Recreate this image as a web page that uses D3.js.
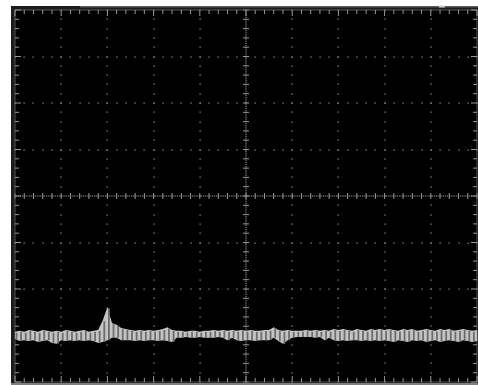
<!DOCTYPE html>
<html>
<head>
<meta charset="utf-8">
<script src="https://cdn.jsdelivr.net/npm/d3@7"></script>
<style>
  html, body { margin: 0; padding: 0; background: #fff; }
  svg { display: block; }
</style>
</head>
<body>
<div id="scope"></div>
<script>
// screen is 10 divisions wide, 8 divisions tall, values in divisions
const divsX = [0, 1, 2, 3, 4, 5, 6, 7, 8, 9, 10];
const divsY = [-4, -3, -2, -1, 0, 1, 2, 3, 4];

// trace envelope, one sample every 0.1 div
const traceTop = [
  -2.92, -2.90, -2.92, -2.88, -2.90, -2.92, -2.88, -2.90, -2.92, -2.90,
  -2.92, -2.88, -2.90, -2.92, -2.90, -2.88, -2.92, -2.90, -2.88, -2.67,
  -2.39, -2.73, -2.77, -2.84, -2.86, -2.88, -2.90, -2.88, -2.90, -2.88,
  -2.90, -2.88, -2.86, -2.82, -2.88, -2.90, -2.90, -2.92, -2.90, -2.90,
  -2.92, -2.90, -2.90, -2.88, -2.90, -2.88, -2.90, -2.88, -2.90, -2.88,
  -2.90, -2.88, -2.90, -2.90, -2.88, -2.88, -2.82, -2.88, -2.90, -2.88,
  -2.90, -2.90, -2.90, -2.88, -2.90, -2.88, -2.90, -2.88, -2.90, -2.86,
  -2.88, -2.86, -2.88, -2.90, -2.86, -2.88, -2.90, -2.86, -2.88, -2.86,
  -2.88, -2.86, -2.88, -2.90, -2.86, -2.88, -2.86, -2.90, -2.88, -2.86,
  -2.88, -2.90, -2.86, -2.88, -2.86, -2.90, -2.88, -2.86, -2.88, -2.90,
  -2.88
];
const traceBottom = [
  -3.07, -3.12, -3.10, -3.12, -3.10, -3.14, -3.12, -3.10, -3.16, -3.18,
  -3.10, -3.12, -3.10, -3.12, -3.10, -3.12, -3.10, -3.12, -3.16, -3.14,
  -3.10, -3.05, -3.05, -3.10, -3.10, -3.10, -3.12, -3.10, -3.12, -3.10,
  -3.10, -3.12, -3.10, -3.12, -3.14, -3.05, -3.05, -3.03, -3.05, -3.05,
  -3.03, -3.05, -3.05, -3.05, -3.03, -3.05, -3.10, -3.05, -3.10, -3.12,
  -3.10, -3.10, -3.12, -3.10, -3.10, -3.10, -3.05, -3.12, -3.18, -3.10,
  -3.05, -3.03, -3.03, -3.03, -3.03, -3.05, -3.03, -3.10, -3.05, -3.10,
  -3.12, -3.10, -3.12, -3.10, -3.10, -3.12, -3.10, -3.12, -3.10, -3.12,
  -3.10, -3.12, -3.14, -3.10, -3.12, -3.14, -3.10, -3.12, -3.10, -3.14,
  -3.12, -3.10, -3.14, -3.12, -3.10, -3.12, -3.14, -3.10, -3.12, -3.14,
  -3.12
];
const sampleStep = 0.1;

const W = 478, H = 385;
const svg = d3.select("#scope")
  .append("svg")
    .attr("width", W)
    .attr("height", H);

// screen background
svg.append("rect")
  .attr("x", 11).attr("y", 6)
  .attr("width", W - 11).attr("height", H - 6)
  .attr("fill", "#000");
svg.append("rect")
  .attr("x", 11).attr("y", 6)
  .attr("width", 4).attr("height", H - 6)
  .attr("fill", "#1c1c1c");
svg.append("rect")
  .attr("x", 11).attr("y", 6)
  .attr("width", W - 11).attr("height", 4)
  .attr("fill", "#1c1c1c");
svg.append("rect")
  .attr("x", 80).attr("y", 6)
  .attr("width", W - 80).attr("height", 1.5)
  .attr("fill", "#5a5a5a");
svg.append("rect")
  .attr("x", 439).attr("y", 5.5)
  .attr("width", 6).attr("height", 2)
  .attr("fill", "#d0d0d0");
svg.append("rect")
  .attr("x", 11).attr("y", 383)
  .attr("width", W - 11).attr("height", 2)
  .attr("fill", "#808080");

var x = d3.scaleLinear()
  .domain([0, 10])
  .range([15, 477]);
var y = d3.scaleLinear()
  .domain([-4, 4])
  .range([382, 10]);

const minorX = d3.range(0, 10.001, 0.2);
const minorY = d3.range(-4, 4.001, 0.2);
const fineX = d3.range(0, 10.001, 0.04);
const fineY = d3.range(-4, 4.001, 0.04);

const grid = svg.append("g");

// dotted graticule
divsX.slice(1, -1).filter(d => d !== 5).forEach(dx => {
  grid.selectAll(null)
    .data(minorY)
    .enter()
    .append("rect")
      .attr("x", Math.round(x(dx)) - 0.5)
      .attr("y", d => Math.round(y(d)) - 0.5)
      .attr("width", 1.2)
      .attr("height", 1.2)
      .attr("fill", "#9a9a9a");
});
divsY.slice(1, -1).filter(d => d !== 0).forEach(dy => {
  grid.selectAll(null)
    .data(minorX)
    .enter()
    .append("rect")
      .attr("x", d => Math.round(x(d)) - 0.5)
      .attr("y", Math.round(y(dy)) - 0.5)
      .attr("width", 1.2)
      .attr("height", 1.2)
      .attr("fill", "#9a9a9a");
});

// centre axes with fine ticks
grid.append("g")
  .selectAll("line")
  .data(fineY)
  .enter()
  .append("line")
    .attr("x1", x(5) - 1).attr("x2", x(5) + 1)
    .attr("y1", d => y(d)).attr("y2", d => y(d))
    .attr("stroke", "#6a6a6a").attr("stroke-width", 0.8);
grid.append("g")
  .selectAll("line")
  .data(fineX)
  .enter()
  .append("line")
    .attr("y1", y(0) - 1).attr("y2", y(0) + 1)
    .attr("x1", d => x(d)).attr("x2", d => x(d))
    .attr("stroke", "#6a6a6a").attr("stroke-width", 0.8);
grid.append("g")
  .selectAll("line")
  .data(minorY)
  .enter()
  .append("line")
    .attr("x1", x(5) - 3).attr("x2", x(5) + 3)
    .attr("y1", d => y(d)).attr("y2", d => y(d))
    .attr("stroke", "#9a9a9a").attr("stroke-width", 1);
grid.append("g")
  .selectAll("line")
  .data(minorX)
  .enter()
  .append("line")
    .attr("y1", y(0) - 3).attr("y2", y(0) + 3)
    .attr("x1", d => x(d)).attr("x2", d => x(d))
    .attr("stroke", "#9a9a9a").attr("stroke-width", 1);

// border with ticks pointing in
const border = svg.append("g");
border.append("rect")
  .attr("x", x(0)).attr("y", y(4))
  .attr("width", x(10) - x(0)).attr("height", y(-4) - y(4))
  .attr("fill", "none")
  .attr("stroke", "#555")
  .attr("stroke-width", 1);

function edgeTicks(vals, isMajor, make) {
  border.append("g")
    .selectAll("line")
    .data(vals)
    .enter()
    .append("line")
      .each(function(d) {
        const len = isMajor(d) ? 6 : 4;
        const p = make(d, len);
        d3.select(this)
          .attr("x1", p[0]).attr("y1", p[1])
          .attr("x2", p[2]).attr("y2", p[3]);
      })
      .attr("stroke", "#9a9a9a")
      .attr("stroke-width", 1);
}
const onDiv = d => Math.abs(d - Math.round(d)) < 1e-6;
edgeTicks(minorX, onDiv, (d, l) => [x(d), y(4), x(d), y(4) + l]);
edgeTicks(minorX, onDiv, (d, l) => [x(d), y(-4), x(d), y(-4) - l]);
edgeTicks(minorY, onDiv, (d, l) => [x(0), y(d), x(0) + l, y(d)]);
edgeTicks(minorY, onDiv, (d, l) => [x(10), y(d), x(10) - l, y(d)]);

// trace
const samples = traceTop.map((t, i) => ({ t: i * sampleStep, hi: t, lo: traceBottom[i] }));

const band = d3.area()
  .x(d => x(d.t))
  .y0(d => y(d.lo))
  .y1(d => y(d.hi));

svg.append("path")
  .datum(samples)
  .attr("d", band)
  .attr("fill", "#c4c4c4");

svg.append("g")
  .selectAll("line")
  .data(samples)
  .enter()
  .append("line")
    .attr("x1", d => x(d.t) + 1.5)
    .attr("x2", d => x(d.t) + 1.5)
    .attr("y1", d => y(d.hi) + 1)
    .attr("y2", d => y(d.lo))
    .attr("stroke", "#6c6c6c")
    .attr("stroke-width", 1.8);
</script>
</body>
</html>
